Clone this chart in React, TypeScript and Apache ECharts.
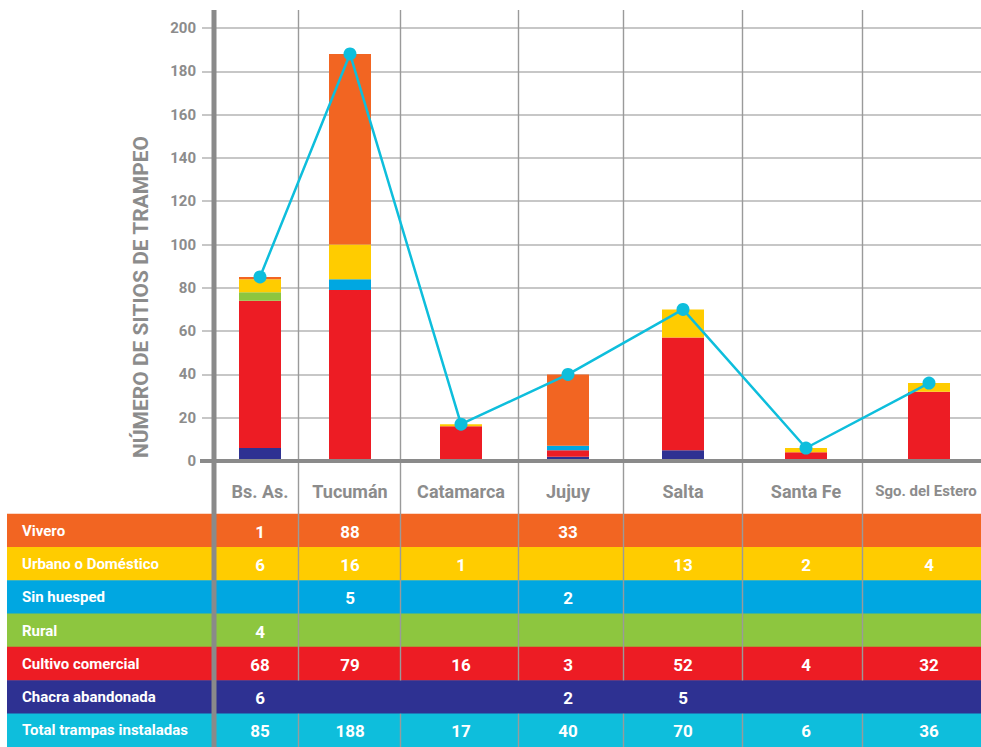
import React, { useEffect, useRef } from "react";
import * as echarts from "echarts";

// ---------- DATA ----------
const categories = ["Bs. As.", "Tucumán", "Catamarca", "Jujuy", "Salta", "Santa Fe", "Sgo. del Estero"];
const rowNames = [
  "Vivero",
  "Urbano o Doméstico",
  "Sin huesped",
  "Rural",
  "Cultivo comercial",
  "Chacra abandonada",
  "Total trampas instaladas",
];
const vivero = [1, 88, null, 33, null, null, null];
const urbano = [6, 16, 1, null, 13, 2, 4];
const sinHuesped = [null, 5, null, 2, null, null, null];
const rural = [4, null, null, null, null, null, null];
const cultivo = [68, 79, 16, 3, 52, 4, 32];
const chacra = [6, null, null, 2, 5, null, null];
const totales = [85, 188, 17, 40, 70, 6, 36];
const yAxisTitle = "NÚMERO DE SITIOS DE TRAMPEO";

// ---------- LAYOUT / STYLE ----------
const W = 981;
const H = 747;
const GRID_LEFT = 214;
const GRID_WIDTH = W - GRID_LEFT;
const PLOT_TOP = 28;
const PLOT_BOTTOM = 461;
const TABLE_TOP = 514;
const TABLE_BOTTOM = H;
const LINES_TOP = 10;
// horizontal positions of the (unequal) columns, measured from the y axis
const COL_CENTERS = [46, 136, 247, 354, 469, 592, 715];
const COL_EDGES = [84, 186, 304, 409, 528, 648];

const C_VIVERO = "#F26522";
const C_URBANO = "#FFCC00";
const C_SIN = "#00A7E1";
const C_RURAL = "#8DC63F";
const C_CULTIVO = "#ED1C24";
const C_CHACRA = "#2E3192";
const C_TOTAL = "#0EBEDC";
const ROW_COLORS = [C_VIVERO, C_URBANO, C_SIN, C_RURAL, C_CULTIVO, C_CHACRA, C_TOTAL];
const GRAY_TEXT = "#8c8c8c";
const GRAY_AXIS = "#8a8a8a";
const GRAY_GRID = "#b4b4b4";
const FONT = "Roboto, 'DejaVu Sans', sans-serif";

const tableRows = [vivero, urbano, sinHuesped, rural, cultivo, chacra, totales];

export default function App() {
  const ref = useRef<HTMLDivElement>(null);

  useEffect(() => {
    if (!ref.current) return;
    const chart = echarts.init(ref.current, undefined, { renderer: "svg", width: W, height: H });

    // value first so that the stack works on the y dimension
    const stackSeries = [
      { name: "Chacra abandonada", data: chacra, color: C_CHACRA },
      { name: "Cultivo comercial", data: cultivo, color: C_CULTIVO },
      { name: "Rural", data: rural, color: C_RURAL },
      { name: "Sin huesped", data: sinHuesped, color: C_SIN },
      { name: "Urbano o Doméstico", data: urbano, color: C_URBANO },
      { name: "Vivero", data: vivero, color: C_VIVERO },
    ].map((s) => ({
      type: "bar",
      name: s.name,
      stack: "total",
      xAxisIndex: 0,
      yAxisIndex: 0,
      barWidth: 42,
      z: 3,
      encode: { x: 1, y: 0 },
      itemStyle: { color: s.color },
      data: s.data.map((v, i) => [v == null ? 0 : v, COL_CENTERS[i]]),
    }));

    const cellData: any[] = [];
    tableRows.forEach((row, r) => {
      row.forEach((v, c) => {
        if (v != null) cellData.push([COL_CENTERS[c], r, v]);
      });
    });

    const option: any = {
      animation: false,
      backgroundColor: "#ffffff",
      grid: [
        { left: GRID_LEFT, top: PLOT_TOP, width: GRID_WIDTH, height: PLOT_BOTTOM - PLOT_TOP },
        { left: GRID_LEFT, top: TABLE_TOP, width: GRID_WIDTH, height: TABLE_BOTTOM - TABLE_TOP },
      ],
      xAxis: [
        { type: "value", gridIndex: 0, min: 0, max: GRID_WIDTH, show: false },
        { type: "value", gridIndex: 1, min: 0, max: GRID_WIDTH, show: false },
      ],
      yAxis: [
        {
          type: "value",
          gridIndex: 0,
          min: 0,
          max: 200,
          interval: 20,
          axisLine: { show: false },
          axisTick: { show: true, length: 12, lineStyle: { color: GRAY_GRID, width: 1.5 } },
          axisLabel: {
            margin: 18,
            color: GRAY_TEXT,
            fontFamily: FONT,
            fontWeight: "bold",
            fontSize: 15,
          },
          splitLine: { show: true, lineStyle: { color: GRAY_GRID, width: 1.5 } },
        },
        {
          type: "category",
          gridIndex: 1,
          inverse: true,
          data: rowNames,
          show: false,
        },
      ],
      graphic: [
        {
          type: "line",
          z: 20,
          shape: { x1: GRID_LEFT, y1: LINES_TOP, x2: GRID_LEFT, y2: H },
          style: { stroke: GRAY_AXIS, lineWidth: 5 },
        },
        {
          type: "line",
          z: 20,
          shape: { x1: 200, y1: PLOT_BOTTOM, x2: W, y2: PLOT_BOTTOM },
          style: { stroke: GRAY_AXIS, lineWidth: 4 },
        },
        {
          type: "text",
          z: 20,
          x: 141,
          y: 297,
          rotation: Math.PI / 2,
          style: {
            text: yAxisTitle,
            fill: GRAY_TEXT,
            font: `bold 21px ${FONT}`,
            align: "center",
            verticalAlign: "middle",
          },
        },
      ],
      series: [
        // table row backgrounds + row labels
        {
          type: "custom",
          xAxisIndex: 1,
          yAxisIndex: 1,
          z: 0,
          silent: true,
          data: rowNames.map((n, i) => [0, i]),
          renderItem: (params: any, api: any) => {
            const idx = params.dataIndex;
            const c = api.coord([0, api.value(1)]);
            const h = api.size([0, 1])[1];
            return {
              type: "group",
              children: [
                {
                  type: "rect",
                  shape: { x: 7, y: c[1] - h / 2 - 0.3, width: W - 7, height: h + 0.6 },
                  style: { fill: ROW_COLORS[idx] },
                },
                {
                  type: "text",
                  x: 22,
                  y: c[1],
                  style: {
                    text: rowNames[idx],
                    fill: "#ffffff",
                    font: `bold 15px ${FONT}`,
                    align: "left",
                    verticalAlign: "middle",
                  },
                },
              ],
            };
          },
        },
        // vertical column separators
        {
          type: "custom",
          xAxisIndex: 1,
          yAxisIndex: 1,
          z: 1,
          silent: true,
          data: COL_EDGES.map((e) => [e, 5]),
          renderItem: (params: any, api: any) => {
            const c = api.coord([api.value(0), api.value(1)]);
            const h = api.size([0, 1])[1];
            const x = Math.round(c[0]) + 0.5;
            const style = { stroke: "#9a9a9a", lineWidth: 1.4 };
            return {
              type: "group",
              children: [
                { type: "line", shape: { x1: x, y1: LINES_TOP, x2: x, y2: c[1] - h / 2 }, style },
                { type: "line", shape: { x1: x, y1: c[1] + h / 2, x2: x, y2: H }, style },
              ],
            };
          },
        },
        ...stackSeries,
        {
          type: "line",
          name: "Total trampas instaladas",
          xAxisIndex: 0,
          yAxisIndex: 0,
          z: 6,
          symbol: "circle",
          symbolSize: 13,
          lineStyle: { color: C_TOTAL, width: 2.5 },
          itemStyle: { color: C_TOTAL },
          data: totales.map((v, i) => [COL_CENTERS[i], v]),
        },
        // category header labels
        {
          type: "custom",
          xAxisIndex: 0,
          yAxisIndex: 0,
          z: 6,
          silent: true,
          data: categories.map((c, i) => [COL_CENTERS[i], 0, i]),
          renderItem: (params: any, api: any) => {
            const p = api.coord([api.value(0), 0]);
            const name = categories[params.dataIndex];
            const small = name.length > 12;
            return {
              type: "text",
              x: small ? p[0] - 3 : p[0],
              y: p[1] + 30,
              style: {
                text: name,
                fill: GRAY_TEXT,
                font: `bold ${small ? 15 : 18}px ${FONT}`,
                align: "center",
                verticalAlign: "middle",
              },
            };
          },
        },
        // table cell values
        {
          type: "custom",
          xAxisIndex: 1,
          yAxisIndex: 1,
          z: 6,
          silent: true,
          data: cellData,
          renderItem: (params: any, api: any) => {
            const p = api.coord([api.value(0), api.value(1)]);
            return {
              type: "text",
              x: p[0],
              y: p[1] + 1,
              style: {
                text: String(api.value(2)),
                fill: "#ffffff",
                font: `bold 17px ${FONT}`,
                align: "center",
                verticalAlign: "middle",
              },
            };
          },
        },
      ],
    };

    chart.setOption(option);
    return () => chart.dispose();
  }, []);

  return (
    <div
      ref={ref}
      style={{ position: "fixed", left: 0, top: 0, width: W, height: H, background: "#fff" }}
    />
  );
}
